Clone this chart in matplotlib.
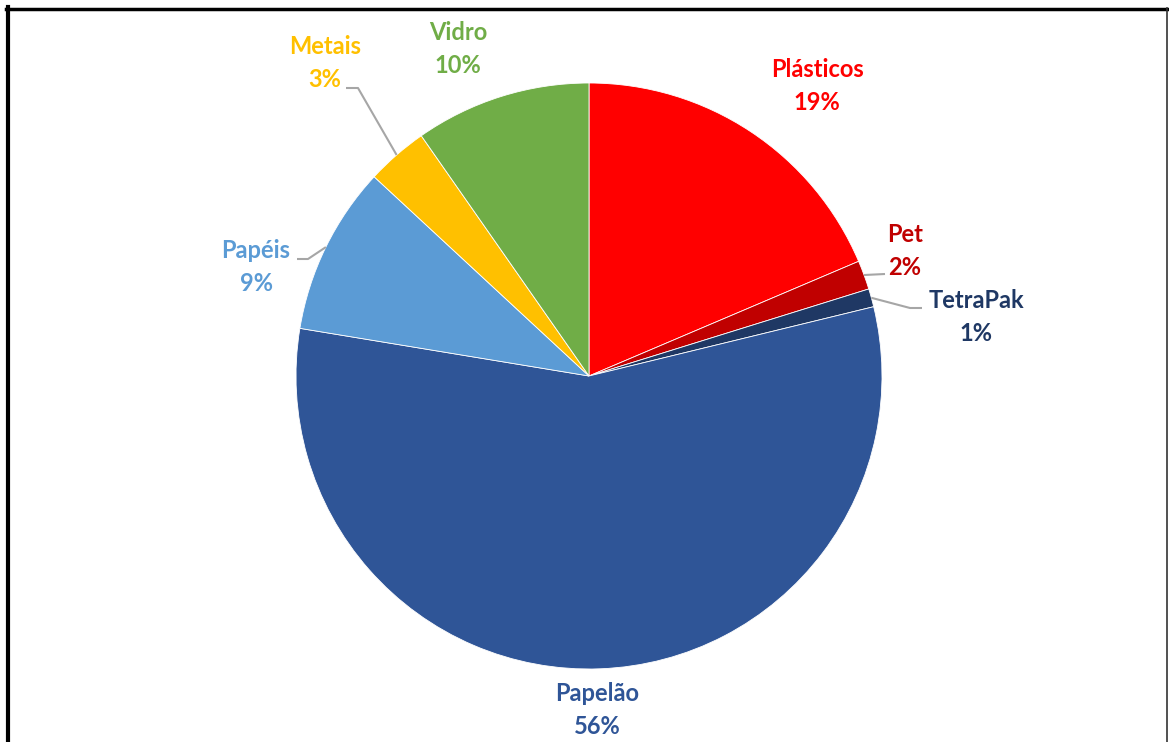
import numpy as np
import matplotlib.pyplot as plt

categorias = ['Plásticos', 'Pet', 'TetraPak', 'Papelão', 'Papéis', 'Metais', 'Vidro']
percentuais = [18.6, 1.6, 1.0, 56.4, 9.3, 3.4, 9.7]
cores = ['#FF0000', '#C00000', '#1F3864', '#2F5597', '#5B9BD5', '#FFC000', '#70AD47']

# centro dos rótulos (px) e cotovelos das linhas de chamada
pos_rotulos = {'Plásticos': (817, 86), 'Pet': (905, 251), 'TetraPak': (976, 317),
               'Papelão': (597, 710), 'Papéis': (256, 267), 'Metais': (325, 63),
               'Vidro': (458, 49)}
chamadas = {'Pet': [(885, 274)],
            'TetraPak': [(910, 308), (922, 308)],
            'Papéis': [(308, 259), (297, 259)],
            'Metais': [(358, 88), (346, 88)]}

W, H = 1169, 742
CX, CY, R = 589, 376, 293

plt.rcParams['font.family'] = ['Lato', 'DejaVu Sans']

fig = plt.figure(figsize=(W / 100, H / 100), dpi=100)
ax = fig.add_axes([0, 0, 1, 1])


def px(x, y):
    return (x - CX) / R, (CY - y) / R


wedges, _ = ax.pie(percentuais, colors=cores, startangle=90, counterclock=False,
                   radius=1, center=(0, 0),
                   wedgeprops=dict(edgecolor='white', linewidth=0.6))
ax.set_aspect('equal')
ax.set_xlim(-CX / R, (W - CX) / R)
ax.set_ylim((CY - H) / R, CY / R)
ax.axis('off')

for w, nome, val, cor in zip(wedges, categorias, percentuais, cores):
    x, y = px(*pos_rotulos[nome])
    ax.text(x, y, f'{nome}\n{val:.0f}%', color=cor, fontsize=17, fontweight='bold',
            ha='center', va='center', linespacing=1.55)
    if nome in chamadas:
        ang = np.deg2rad((w.theta1 + w.theta2) / 2)
        pts = [(np.cos(ang), np.sin(ang))] + [px(*p) for p in chamadas[nome]]
        xs, ys = zip(*pts)
        ax.plot(xs, ys, color='#A6A6A6', lw=1.5, solid_capstyle='butt')

# moldura
ax.plot(*zip(px(8, 7), px(8, 742)), color='black', lw=3, clip_on=False)
ax.plot(*zip(px(6, 8.5), px(1168, 8.5)), color='black', lw=2.5, clip_on=False)
ax.plot(*zip(px(1167, 8), px(1167, 742)), color='#333333', lw=1.2, clip_on=False)

fig.savefig('out.png', dpi=100)
